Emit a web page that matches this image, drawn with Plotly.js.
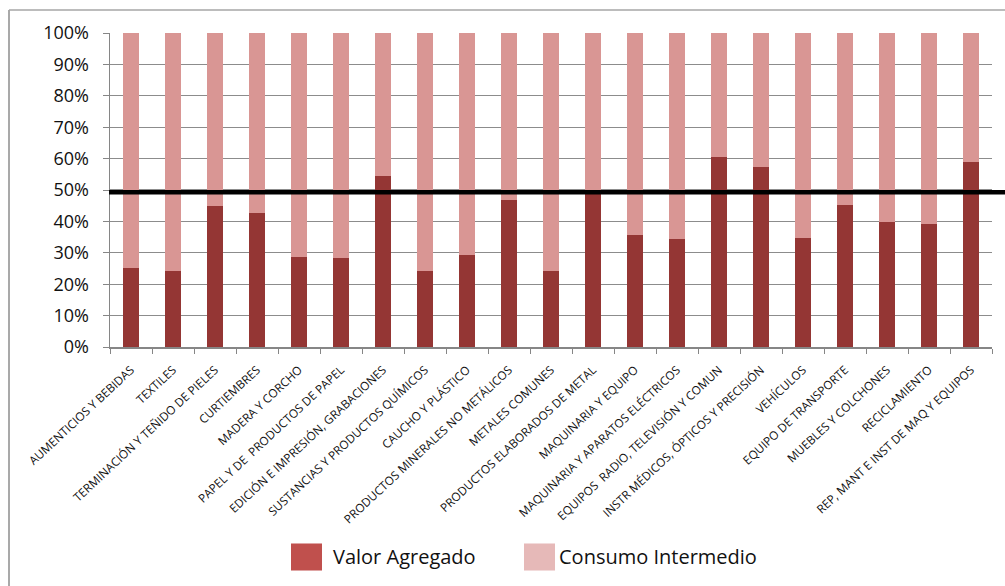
<!DOCTYPE html>
<html>
<head>
<meta charset="utf-8">
<script src="https://cdn.plot.ly/plotly-3.0.1.min.js"></script>
<style>
html,body{margin:0;padding:0;background:#fff;}
#chart{width:1005px;height:586px;}
</style>
</head>
<body>
<div id="chart"></div>
<script>
// ---- Data ----
const categories = [
  "AUMENTICIOS Y BEBIDAS",
  "TEXTILES",
  "TERMINACIÓN Y TEÑIDO DE PIELES",
  "CURTIEMBRES",
  "MADERA Y CORCHO",
  "PAPEL Y DE  PRODUCTOS DE PAPEL",
  "EDICIÓN E IMPRESIÓN, GRABACIONES",
  "SUSTANCIAS Y PRODUCTOS QUÍMICOS",
  "CAUCHO Y PLÁSTICO",
  "PRODUCTOS MINERALES NO METÁLICOS",
  "METALES COMUNES",
  "PRODUCTOS ELABORADOS DE METAL",
  "MAQUINARIA Y EQUIPO",
  "MAQUINARIA Y APARATOS ELÉCTRICOS",
  "EQUIPOS  RADIO, TELEVISIÓN Y COMUN",
  "INSTR MÉDICOS, ÓPTICOS Y PRECISIÓN",
  "VEHÍCULOS",
  "EQUIPO DE TRANSPORTE",
  "MUEBLES Y COLCHONES",
  "RECICLAMIENTO",
  "REP, MANT E INST DE MAQ Y EQUIPOS"
];
const valorAgregado = [0.251, 0.242, 0.449, 0.427, 0.287, 0.284, 0.545, 0.241, 0.293, 0.468, 0.241,
                       0.495, 0.357, 0.343, 0.605, 0.574, 0.347, 0.453, 0.398, 0.392, 0.589];
const consumoIntermedio = [0.749, 0.758, 0.551, 0.573, 0.713, 0.716, 0.455, 0.759, 0.707, 0.532, 0.759,
                           0.505, 0.643, 0.657, 0.395, 0.426, 0.653, 0.547, 0.602, 0.608, 0.411];
const seriesNames = ["Valor Agregado", "Consumo Intermedio"];
const referenceLevel = 0.493;
const yTickVals = [0,0.1,0.2,0.3,0.4,0.5,0.6,0.7,0.8,0.9,1.0];
const yTickText = ["0%","10%","20%","30%","40%","50%","60%","70%","80%","90%","100%"];

// ---- Layout helpers (pixel -> paper) ----
const L = 110, R = 992, T = 33, B = 346.7;
const W = 1005, H = 586;
const px = v => (v - L) / (R - L);
const py = v => (B - v) / (B - T);

const traces = [
  {type:"bar", name:seriesNames[0], x:categories, y:valorAgregado,
   marker:{color:"#943634"}, showlegend:false, hoverinfo:"skip"},
  {type:"bar", name:seriesNames[1], x:categories, y:consumoIntermedio,
   marker:{color:"#D99694"}, showlegend:false, hoverinfo:"skip"}
];

const shapes = [
  // outer chart border (left + top)
  {type:"line", xref:"paper", yref:"paper", x0:px(9), x1:px(9), y0:py(10), y1:py(600),
   line:{color:"#8c8c8c", width:1.5}},
  {type:"line", xref:"paper", yref:"paper", x0:px(9), x1:px(1010), y0:py(10), y1:py(10),
   line:{color:"#a6a6a6", width:1.5}},
  // reference line at ~50%
  {type:"line", xref:"paper", yref:"y", x0:px(109), x1:px(1010), y0:referenceLevel, y1:referenceLevel,
   line:{color:"#000000", width:4.5}, layer:"above"},
  // legend swatches
  {type:"rect", xref:"paper", yref:"paper", x0:px(291), x1:px(322), y0:py(543), y1:py(570),
   fillcolor:"#C0504D", line:{width:0}},
  {type:"rect", xref:"paper", yref:"paper", x0:px(524), x1:px(555), y0:py(543), y1:py(570),
   fillcolor:"#E6B9B8", line:{width:0}}
];

const annotations = [
  {xref:"paper", yref:"paper", x:px(331), y:py(556), text:seriesNames[0], showarrow:false,
   xanchor:"left", yanchor:"middle", font:{family:"Open Sans", size:20, color:"#111111"}},
  {xref:"paper", yref:"paper", x:px(557), y:py(556), text:seriesNames[1], showarrow:false,
   xanchor:"left", yanchor:"middle", font:{family:"Open Sans", size:20, color:"#111111"}}
];

const layout = {
  width:W, height:H,
  margin:{l:L, r:W-R, t:T, b:H-B, pad:0},
  paper_bgcolor:"#ffffff", plot_bgcolor:"#ffffff",
  barmode:"stack", bargap:0.61,
  showlegend:false,
  font:{family:"Open Sans", color:"#111111"},
  xaxis:{
    type:"category", tickangle:-43, tickson:"boundaries",
    ticks:"outside", ticklen:5, tickcolor:"#868686", tickwidth:1,
    showline:true, linecolor:"#868686", linewidth:1.5,
    showgrid:false, zeroline:false,
    tickfont:{family:"Open Sans", size:11.8, color:"#111111"},
    ticklabelstandoff:10
  },
  yaxis:{
    range:[0,1], tickvals:yTickVals, ticktext:yTickText,
    ticks:"outside", ticklen:6, tickcolor:"#868686", tickwidth:1,
    showline:true, linecolor:"#868686", linewidth:1.5,
    showgrid:true, gridcolor:"#8c8c8c", gridwidth:1.2,
    zeroline:false,
    tickfont:{family:"Open Sans", size:18, color:"#111111"},
    ticklabelstandoff:10
  },
  shapes:shapes,
  annotations:annotations
};

Plotly.newPlot("chart", traces, layout, {staticPlot:true, displayModeBar:false});
</script>
</body>
</html>
